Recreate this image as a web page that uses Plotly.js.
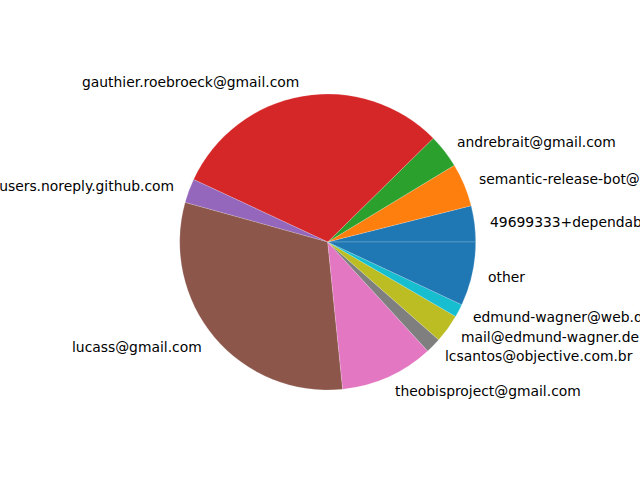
<!DOCTYPE html>
<html>
<head>
<meta charset="utf-8">
<script src="https://cdn.plot.ly/plotly-3.0.1.min.js"></script>
<style>html,body{margin:0;padding:0;background:#fff;}#chart{width:640px;height:480px;}</style>
</head>
<body>
<div id="chart"></div>
<script>
const labels = [
  "49699333+dependabot[bot]@users.noreply.github.com",
  "semantic-release-bot@martynus.net",
  "andrebrait@gmail.com",
  "gauthier.roebroeck@gmail.com",
  "41898282+github-actions[bot]@users.noreply.github.com",
  "lucass@gmail.com",
  "theobisproject@gmail.com",
  "lcsantos@objective.com.br",
  "mail@edmund-wagner.de",
  "edmund-wagner@web.de",
  "other"
];
const values = [14.2, 17.0, 13.3, 110.5, 9.5, 111.3, 36.7, 6.1, 11.2, 5.15, 25.05];
const colors = ["#1f77b4","#ff7f0e","#2ca02c","#d62728","#9467bd","#8c564b","#e377c2","#7f7f7f","#bcbd22","#17becf","#1f77b4"];

const W = 640, H = 480;
const cx = 327.7, cy = 242, R = 148;

const total = values.reduce((a,b)=>a+b,0);
const annotations = [];
let cum = 0;
for (let i = 0; i < values.length; i++) {
  const a0 = cum / total * 2 * Math.PI;
  cum += values[i];
  const a1 = cum / total * 2 * Math.PI;
  const mid = (a0 + a1) / 2;
  const px = cx + 1.1 * R * Math.cos(mid);
  const py = cy - 1.1 * R * Math.sin(mid);
  annotations.push({
    x: px / W, y: 1 - py / H, xref: 'paper', yref: 'paper',
    text: labels[i], showarrow: false,
    xanchor: Math.cos(mid) > 0 ? 'left' : 'right', yanchor: 'middle',
    font: {family: 'DejaVu Sans', size: 13.89, color: '#000'},
    borderpad: 0
  });
}

const trace = {
  type: 'pie',
  labels: labels,
  values: values,
  sort: false,
  direction: 'counterclockwise',
  rotation: 90 - values[0] / total * 360,
  textinfo: 'none',
  hoverinfo: 'none',
  marker: {colors: colors, line: {width: 0.6, color: 'rgba(255,255,255,0.3)'}},
  domain: {x: [(cx - R) / W, (cx + R) / W], y: [1 - (cy + R) / H, 1 - (cy - R) / H]}
};

Plotly.newPlot('chart', [trace], {
  width: W, height: H,
  margin: {l: 0, r: 0, t: 0, b: 0},
  paper_bgcolor: '#fff',
  showlegend: false,
  annotations: annotations,
  font: {family: 'DejaVu Sans'}
}, {staticPlot: true});
</script>
</body>
</html>
